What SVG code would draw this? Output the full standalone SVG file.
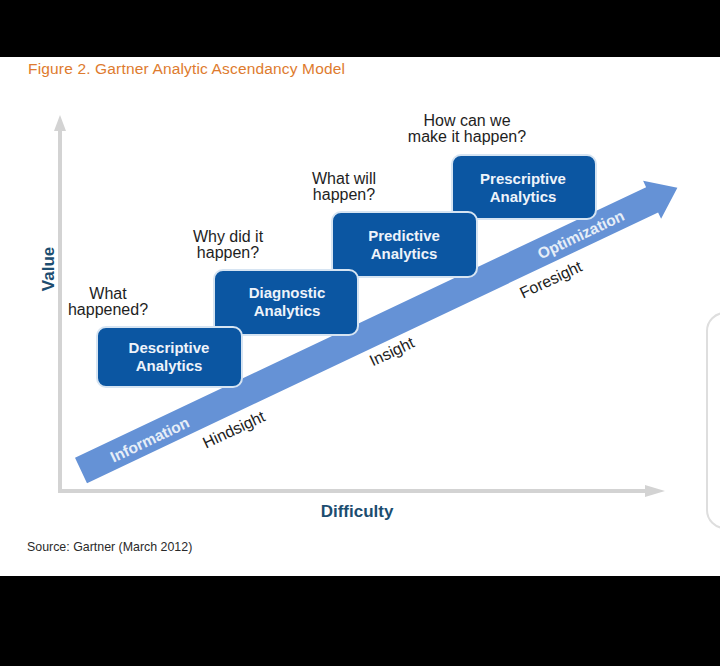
<svg xmlns="http://www.w3.org/2000/svg" width="720" height="666" viewBox="0 0 720 666">
<defs>
<style>
.q{font-family:"Liberation Sans",Arial,sans-serif;font-size:16px;fill:#1e1e1e;text-anchor:middle}
.bx{fill:#0b56a2;stroke:#d6e4f2;stroke-width:2}
.bt{font-family:"Liberation Sans",Arial,sans-serif;font-size:15px;font-weight:bold;fill:#eef3fa;text-anchor:middle}
.al{font-family:"Liberation Sans",Arial,sans-serif;font-size:15.5px;font-weight:bold;fill:#e6eef8;text-anchor:middle}
.bl{font-family:"Liberation Sans",Arial,sans-serif;font-size:16px;fill:#1e1e1e;text-anchor:middle}
.ax{font-family:"Liberation Sans",Arial,sans-serif;font-size:17px;font-weight:bold;fill:#1c4d70;text-anchor:middle}
.axis{fill:#d3d3d3}
</style>
</defs>
<rect x="0" y="0" width="720" height="666" fill="#ffffff"/>
<rect x="0" y="0" width="720" height="57" fill="#000000"/>
<rect x="0" y="576" width="720" height="90" fill="#000000"/>
<rect x="707" y="313" width="40" height="215" rx="18" fill="#ffffff" stroke="#dedede" stroke-width="2"/>

<text x="28" y="74" font-family="&quot;Liberation Sans&quot;,Arial,sans-serif" font-size="15.5" fill="#de7b2e" textLength="317">Figure 2. Gartner Analytic Ascendancy Model</text>

<g id="axes">
<rect class="axis" x="58" y="128" width="4" height="365"/>
<polygon class="axis" points="54,131 60,115 66,131"/>
<rect class="axis" x="58" y="489" width="590" height="4"/>
<polygon class="axis" points="645,485 665,491 645,497"/>
<text class="ax" transform="translate(54,269) rotate(-90)">Value</text>
<text class="ax" x="357" y="517">Difficulty</text>
</g>

<g id="connectors">
<polygon transform="translate(81,470.5) rotate(-25.36)" fill="#6592d6" points="0,-14 632,-14 632,-21 660,0 632,21 632,14 0,14"/>
<text class="al" transform="translate(150,440) rotate(-25.36)" y="5">Information</text>
<text class="al" transform="translate(581,235) rotate(-25.36)" y="5">Optimization</text>
<text class="bl" transform="translate(234,430) rotate(-25.36)" y="5">Hindsight</text>
<text class="bl" transform="translate(392,352) rotate(-25.36)" y="5">Insight</text>
<text class="bl" transform="translate(551,280) rotate(-25.36)" y="5">Foresight</text>
</g>

<g id="prescriptive">
<rect class="bx" x="452" y="155" width="144" height="64" rx="9"/>
<text class="bt" x="523" y="184">Prescriptive</text>
<text class="bt" x="523" y="202">Analytics</text>
<text class="q" x="467" y="126">How can we</text>
<text class="q" x="467" y="142">make it happen?</text>
</g>

<g id="predictive">
<rect class="bx" x="332" y="212" width="145" height="65" rx="9"/>
<text class="bt" x="404" y="241">Predictive</text>
<text class="bt" x="404" y="259">Analytics</text>
<text class="q" x="344" y="184">What will</text>
<text class="q" x="344" y="200">happen?</text>
</g>

<g id="diagnostic">
<rect class="bx" x="214" y="270" width="144" height="65" rx="9"/>
<text class="bt" x="287" y="298">Diagnostic</text>
<text class="bt" x="287" y="316">Analytics</text>
<text class="q" x="228" y="242">Why did it</text>
<text class="q" x="228" y="258">happen?</text>
</g>

<g id="descriptive">
<rect class="bx" x="97" y="327" width="145" height="60" rx="9"/>
<text class="bt" x="169" y="353">Descriptive</text>
<text class="bt" x="169" y="371">Analytics</text>
<text class="q" x="108" y="299">What</text>
<text class="q" x="108" y="315">happened?</text>
</g>

<text x="27" y="551" font-family="&quot;Liberation Sans&quot;,Arial,sans-serif" font-size="12.4" fill="#2a2a2a">Source: Gartner (March 2012)</text>
</svg>
